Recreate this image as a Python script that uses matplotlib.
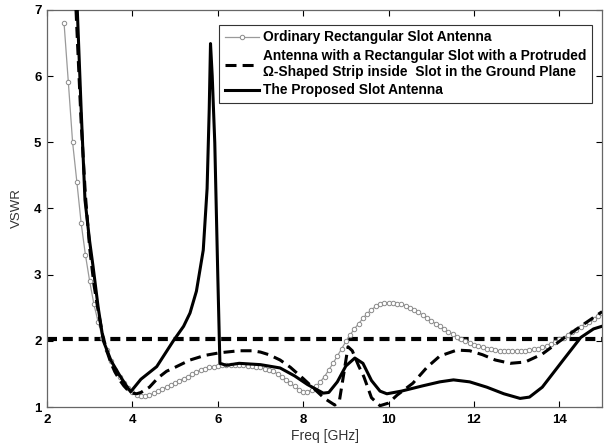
import numpy as np
import matplotlib
matplotlib.use("Agg")
import matplotlib.pyplot as plt

# ---------------- data ----------------
freq_ord = np.round(np.arange(2.4, 15.001, 0.1), 2)
vswr_ord = [6.8, 5.91, 5.0, 4.4, 3.78, 3.3, 2.9, 2.55, 2.28, 2.05,
            1.86, 1.7, 1.56, 1.45, 1.36, 1.28, 1.22, 1.18, 1.16, 1.16,
            1.18, 1.21, 1.24, 1.27, 1.3, 1.33, 1.36, 1.4, 1.43, 1.46,
            1.5, 1.53, 1.56, 1.58, 1.6, 1.61, 1.62, 1.63, 1.63, 1.63,
            1.63, 1.63, 1.63, 1.62, 1.62, 1.61, 1.6, 1.58, 1.56, 1.54,
            1.5, 1.46, 1.41, 1.36, 1.31, 1.26, 1.23, 1.23, 1.26, 1.31,
            1.38, 1.46, 1.56, 1.66, 1.77, 1.88, 1.99, 2.09, 2.18, 2.26,
            2.34, 2.41, 2.47, 2.52, 2.55, 2.57, 2.57, 2.57, 2.56, 2.55,
            2.53, 2.5, 2.47, 2.43, 2.39, 2.35, 2.3, 2.26, 2.22, 2.18,
            2.14, 2.1, 2.06, 2.03, 2.0, 1.97, 1.94, 1.92, 1.9, 1.88,
            1.87, 1.86, 1.85, 1.84, 1.84, 1.84, 1.84, 1.84, 1.85, 1.86,
            1.87, 1.88, 1.9, 1.92, 1.95, 1.98, 2.02, 2.05, 2.09, 2.13,
            2.17, 2.21, 2.25, 2.29, 2.33, 2.38, 2.42]

freq_omega = [2.68, 2.8, 2.9, 3.0, 3.1, 3.2, 3.3, 3.4, 3.5, 3.6, 3.7, 3.8, 3.9,
              4.0, 4.1, 4.2, 4.4, 4.6, 4.8, 5.0, 5.35, 5.7, 6.05, 6.5, 6.8,
              7.0, 7.2, 7.46, 7.7, 8.0, 8.3, 8.5, 8.74, 8.85, 8.95, 9.05,
              9.15, 9.3, 9.42, 9.6, 9.8, 10.0, 10.2, 10.57, 10.9, 11.2,
              11.6, 11.9, 12.2, 12.5, 12.85, 13.2, 13.6, 14.08, 14.5, 15.0]
vswr_omega = [7.0, 5.3, 4.2, 3.4, 2.85, 2.45, 2.1, 1.85, 1.66, 1.52, 1.41,
              1.32, 1.25, 1.21, 1.2, 1.22, 1.3, 1.44, 1.54, 1.6, 1.71, 1.78,
              1.82, 1.85, 1.85, 1.83, 1.79, 1.71, 1.6, 1.43, 1.25, 1.13,
              1.03, 1.1, 1.5, 1.91, 1.85, 1.62, 1.46, 1.14, 1.02, 1.06,
              1.18, 1.36, 1.6, 1.77, 1.86, 1.85, 1.79, 1.71, 1.66, 1.68,
              1.8, 2.03, 2.22, 2.44]

freq_prop = [2.71, 2.8, 2.89, 3.0, 3.08, 3.2, 3.32, 3.5, 3.7, 3.85, 3.96,
             4.2, 4.57, 4.96, 5.2, 5.35, 5.5, 5.66, 5.75, 5.8, 5.83, 5.87,
             5.93, 6.0, 6.05, 6.2, 6.5, 7.0, 7.46, 7.8, 8.1, 8.47, 8.6, 8.8,
             9.0, 9.21, 9.4, 9.6, 9.8, 9.96, 10.3, 10.8, 11.2, 11.52, 11.9,
             12.3, 12.7, 13.08, 13.3, 13.6, 14.09, 14.5, 14.8, 15.0]
vswr_prop = [7.0, 5.5, 4.13, 3.5, 3.12, 2.5, 2.0, 1.7, 1.48, 1.33, 1.23,
             1.42, 1.61, 2.0, 2.22, 2.42, 2.75, 3.37, 4.3, 5.5, 6.49, 6.0,
             4.99, 3.0, 1.66, 1.63, 1.66, 1.64, 1.59, 1.47, 1.34, 1.21, 1.22,
             1.38, 1.62, 1.74, 1.66, 1.4, 1.24, 1.2, 1.24, 1.32, 1.38, 1.41,
             1.38, 1.3, 1.2, 1.13, 1.15, 1.3, 1.71, 2.05, 2.18, 2.22]

vswr_ref = 2.02
x_ticks = [2, 4, 6, 8, 10, 12, 14]
y_ticks = [1, 2, 3, 4, 5, 6, 7]

label_ord = "Ordinary Rectangular Slot Antenna"
label_omega = ("Antenna with a Rectangular Slot with a Protruded\n"
               "\u03a9-Shaped Strip inside  Slot in the Ground Plane")
label_prop = "The Proposed Slot Antenna"

# ---------------- plot ----------------
plt.rcParams['font.family'] = ['Liberation Sans', 'DejaVu Sans']
fig = plt.figure(figsize=(6.1, 4.46), dpi=100)
ax = fig.add_axes([0.077, 0.0874, 0.910, 0.8906])

ax.plot(freq_ord, vswr_ord, color='#9a9a9a', lw=0.9, marker='o', ms=3.2,
        mfc='white', mec='#8a8a8a', mew=0.7, label=label_ord, zorder=2)
ax.plot(freq_omega, vswr_omega, color='black', lw=2.2, ls=(0, (3.6, 2.0)),
        label=label_omega, zorder=3)
ax.plot(freq_prop, vswr_prop, color='black', lw=2.2, label=label_prop,
        zorder=4)
ax.axhline(vswr_ref, color='black', lw=3.0, ls=(0, (2.4, 1.4)), zorder=1)

ax.set_xlim(2, 15)
ax.set_ylim(1, 7)
ax.set_xticks(x_ticks)
ax.set_yticks(y_ticks)
ax.tick_params(direction='in', length=4, width=0.8, top=True, right=True,
               labelsize=9.5, colors='black')
ax.tick_params(axis='x', pad=5)
ax.tick_params(axis='y', pad=4)
for lab in ax.get_xticklabels() + ax.get_yticklabels():
    lab.set_fontweight('bold')
for sp in ax.spines.values():
    sp.set_color('#666666')
    sp.set_linewidth(0.9)

ax.set_xlabel("Freq [GHz]", fontsize=10, color='#333333', labelpad=2)
ax.set_ylabel("VSWR", fontsize=9.5, color='#333333', labelpad=8)

leg = ax.legend(loc='upper left', bbox_to_anchor=(0.31, 0.962),
                prop={'weight': 'bold', 'size': 9.9}, frameon=True,
                fancybox=False, edgecolor='#333333', framealpha=1,
                handlelength=2.5, handletextpad=0.3, borderpad=0.4,
                labelspacing=0.32, borderaxespad=0)
leg.get_frame().set_linewidth(0.8)

fig.savefig("out.png", dpi=100)
